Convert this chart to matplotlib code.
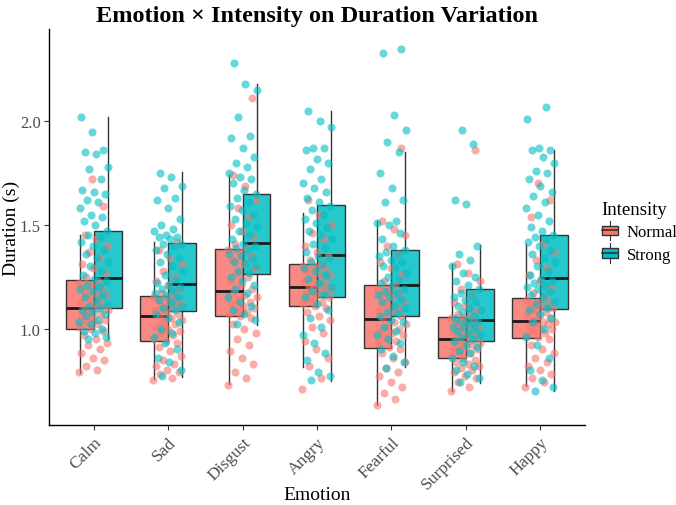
import matplotlib
matplotlib.use("Agg")
import matplotlib.pyplot as plt
import numpy as np
from matplotlib.patches import Rectangle
from matplotlib.lines import Line2D
from matplotlib.legend_handler import HandlerBase

plt.rcParams['font.family'] = ['Liberation Serif', 'DejaVu Serif']

emotions = ["Calm", "Sad", "Disgust", "Angry", "Fearful", "Surprised", "Happy"]
levels = ["Normal", "Strong"]
colors = {"Normal": "#F8766D", "Strong": "#00BFC4"}

# box stats: lower whisker, q1, median, q3, upper whisker
normal_lo  = [0.786, 0.757, 0.733, 0.814, 0.630, 0.700, 0.725]
normal_q1  = [1.000, 0.938, 1.060, 1.108, 0.905, 0.857, 0.956]
normal_med = [1.100, 1.062, 1.180, 1.203, 1.048, 0.948, 1.035]
normal_q3  = [1.235, 1.157, 1.386, 1.310, 1.210, 1.056, 1.146]
normal_hi  = [1.450, 1.420, 1.740, 1.556, 1.520, 1.313, 1.410]

strong_lo  = [0.950, 0.768, 1.016, 0.749, 0.813, 0.738, 0.700]
strong_q1  = [1.100, 1.084, 1.265, 1.154, 1.059, 0.941, 1.095]
strong_med = [1.243, 1.214, 1.413, 1.357, 1.211, 1.043, 1.246]
strong_q3  = [1.470, 1.413, 1.648, 1.594, 1.378, 1.189, 1.451]
strong_hi  = [2.020, 1.754, 2.180, 2.050, 1.850, 1.403, 1.862]

# jittered points (durations, s), estimated per group
calm_normal = [0.79, 0.80, 0.82, 0.85, 0.86, 0.88, 0.90, 0.92, 0.93, 0.95, 0.97, 0.99,
               1.00, 1.01, 1.02, 1.03, 1.04, 1.05, 1.06, 1.07, 1.08, 1.09, 1.10, 1.10,
               1.11, 1.12, 1.13, 1.14, 1.15, 1.16, 1.17, 1.18, 1.19, 1.21, 1.22, 1.23,
               1.25, 1.27, 1.29, 1.31, 1.34, 1.37, 1.40, 1.43, 1.45, 1.59, 1.72]
calm_strong = [0.95, 0.96, 0.98, 0.99, 1.00, 1.02, 1.03, 1.04, 1.06, 1.07, 1.08, 1.09,
               1.10, 1.11, 1.12, 1.14, 1.15, 1.16, 1.18, 1.19, 1.20, 1.21, 1.23, 1.24,
               1.26, 1.28, 1.30, 1.32, 1.34, 1.36, 1.38, 1.40, 1.42, 1.44, 1.45, 1.47,
               1.50, 1.52, 1.54, 1.55, 1.58, 1.61, 1.62, 1.65, 1.66, 1.67, 1.72, 1.77,
               1.78, 1.84, 1.85, 1.86, 1.95, 2.02]
sad_normal = [0.75, 0.76, 0.78, 0.79, 0.80, 0.82, 0.83, 0.85, 0.87, 0.89, 0.91, 0.93,
              0.94, 0.95, 0.97, 0.98, 0.99, 1.00, 1.01, 1.02, 1.03, 1.04, 1.05, 1.06,
              1.07, 1.08, 1.09, 1.10, 1.11, 1.12, 1.13, 1.14, 1.14, 1.15, 1.15, 1.16,
              1.17, 1.19, 1.21, 1.23, 1.25, 1.28, 1.31, 1.34, 1.38, 1.42]
sad_strong = [0.77, 0.80, 0.84, 0.86, 0.90, 0.93, 0.96, 0.98, 1.00, 1.03, 1.05, 1.07,
              1.09, 1.10, 1.11, 1.13, 1.14, 1.15, 1.16, 1.17, 1.18, 1.19, 1.20, 1.21,
              1.22, 1.24, 1.26, 1.28, 1.30, 1.32, 1.34, 1.36, 1.38, 1.40, 1.41, 1.41,
              1.43, 1.44, 1.44, 1.45, 1.47, 1.48, 1.50, 1.53, 1.58, 1.62, 1.63, 1.68,
              1.69, 1.73, 1.75]
disgust_normal = [0.73, 0.76, 0.79, 0.83, 0.86, 0.89, 0.92, 0.95, 0.98, 1.00, 1.02, 1.05,
                  1.06, 1.07, 1.08, 1.09, 1.10, 1.11, 1.12, 1.13, 1.14, 1.15, 1.16, 1.18,
                  1.19, 1.21, 1.23, 1.25, 1.27, 1.29, 1.31, 1.33, 1.35, 1.37, 1.38, 1.39,
                  1.41, 1.44, 1.47, 1.50, 1.54, 1.58, 1.62, 1.69, 1.74, 2.11]
disgust_strong = [1.02, 1.04, 1.07, 1.09, 1.11, 1.13, 1.15, 1.17, 1.19, 1.21, 1.23, 1.25,
                  1.27, 1.28, 1.30, 1.31, 1.32, 1.34, 1.35, 1.36, 1.38, 1.39, 1.40, 1.41,
                  1.43, 1.45, 1.47, 1.49, 1.51, 1.53, 1.55, 1.57, 1.59, 1.61, 1.63, 1.65,
                  1.67, 1.70, 1.72, 1.73, 1.75, 1.78, 1.80, 1.83, 1.87, 1.92, 1.93, 2.02,
                  2.15, 2.18, 2.28]
angry_normal = [0.71, 0.76, 0.82, 0.86, 0.90, 0.94, 0.98, 1.01, 1.04, 1.06, 1.08, 1.10,
                1.11, 1.12, 1.13, 1.14, 1.15, 1.16, 1.17, 1.18, 1.19, 1.19, 1.20, 1.20,
                1.21, 1.22, 1.23, 1.24, 1.25, 1.26, 1.27, 1.28, 1.29, 1.30, 1.30, 1.31,
                1.33, 1.35, 1.37, 1.40, 1.43, 1.46, 1.50, 1.55, 1.62]
angry_strong = [0.75, 0.77, 0.79, 0.85, 0.88, 0.93, 0.97, 1.01, 1.05, 1.09, 1.12, 1.15,
                1.16, 1.18, 1.20, 1.22, 1.24, 1.26, 1.28, 1.29, 1.31, 1.32, 1.34, 1.35,
                1.37, 1.39, 1.41, 1.43, 1.45, 1.47, 1.49, 1.51, 1.53, 1.55, 1.57, 1.59,
                1.61, 1.63, 1.66, 1.68, 1.70, 1.72, 1.77, 1.80, 1.82, 1.86, 1.87, 1.87,
                1.97, 2.00, 2.05]
fearful_normal = [0.63, 0.66, 0.69, 0.72, 0.74, 0.77, 0.79, 0.81, 0.84, 0.86, 0.88, 0.90,
                  0.91, 0.93, 0.94, 0.96, 0.97, 0.98, 0.99, 1.00, 1.01, 1.02, 1.03, 1.05,
                  1.06, 1.08, 1.09, 1.10, 1.12, 1.13, 1.15, 1.16, 1.17, 1.18, 1.19, 1.21,
                  1.23, 1.26, 1.29, 1.32, 1.36, 1.40, 1.45, 1.48, 1.52, 1.87]
fearful_strong = [0.81, 0.84, 0.87, 0.90, 0.93, 0.95, 0.97, 0.99, 1.01, 1.03, 1.04, 1.06,
                  1.07, 1.08, 1.10, 1.11, 1.13, 1.14, 1.15, 1.16, 1.17, 1.18, 1.19, 1.21,
                  1.22, 1.24, 1.25, 1.27, 1.29, 1.30, 1.32, 1.33, 1.35, 1.36, 1.37, 1.38,
                  1.40, 1.43, 1.46, 1.50, 1.51, 1.52, 1.61, 1.62, 1.68, 1.75, 1.85, 1.90,
                  1.96, 2.03, 2.33, 2.35]
surprised_normal = [0.70, 0.72, 0.74, 0.76, 0.77, 0.79, 0.80, 0.81, 0.82, 0.83, 0.84, 0.85,
                    0.86, 0.87, 0.88, 0.89, 0.90, 0.91, 0.91, 0.92, 0.93, 0.93, 0.94, 0.95,
                    0.96, 0.97, 0.98, 0.99, 1.00, 1.01, 1.02, 1.03, 1.04, 1.05, 1.05, 1.06,
                    1.07, 1.09, 1.11, 1.13, 1.16, 1.19, 1.23, 1.27, 1.31, 1.86]
surprised_strong = [0.74, 0.76, 0.78, 0.80, 0.82, 0.84, 0.86, 0.88, 0.89, 0.91, 0.92, 0.94,
                    0.95, 0.96, 0.97, 0.98, 0.99, 1.00, 1.01, 1.01, 1.02, 1.03, 1.03, 1.04,
                    1.05, 1.06, 1.08, 1.09, 1.10, 1.11, 1.13, 1.14, 1.15, 1.16, 1.17, 1.19,
                    1.21, 1.23, 1.25, 1.27, 1.30, 1.33, 1.36, 1.40, 1.60, 1.62, 1.89, 1.96]
happy_normal = [0.72, 0.74, 0.76, 0.78, 0.80, 0.82, 0.84, 0.86, 0.88, 0.90, 0.92, 0.95,
                0.96, 0.97, 0.98, 0.99, 1.00, 1.00, 1.01, 1.02, 1.02, 1.03, 1.03, 1.04,
                1.05, 1.06, 1.07, 1.08, 1.09, 1.10, 1.11, 1.12, 1.13, 1.13, 1.14, 1.15,
                1.17, 1.20, 1.23, 1.26, 1.29, 1.33, 1.37, 1.41, 1.54, 1.62, 1.70]
happy_strong = [0.70, 0.72, 0.75, 0.80, 0.86, 0.92, 0.96, 1.00, 1.03, 1.05, 1.07, 1.09,
                1.10, 1.12, 1.13, 1.15, 1.16, 1.18, 1.19, 1.20, 1.21, 1.22, 1.23, 1.24,
                1.26, 1.28, 1.30, 1.32, 1.34, 1.36, 1.38, 1.40, 1.42, 1.43, 1.44, 1.45,
                1.47, 1.49, 1.52, 1.55, 1.58, 1.61, 1.64, 1.66, 1.69, 1.72, 1.75, 1.76,
                1.80, 1.83, 1.86, 1.86, 1.87, 2.01, 2.07]

points_normal = [calm_normal, sad_normal, disgust_normal, angry_normal,
                 fearful_normal, surprised_normal, happy_normal]
points_strong = [calm_strong, sad_strong, disgust_strong, angry_strong,
                 fearful_strong, surprised_strong, happy_strong]

box_stats = {
    "Normal": (normal_lo, normal_q1, normal_med, normal_q3, normal_hi),
    "Strong": (strong_lo, strong_q1, strong_med, strong_q3, strong_hi),
}
points = {"Normal": points_normal, "Strong": points_strong}

fig = plt.figure(figsize=(6.76, 5.06), dpi=100)
ax = fig.add_axes([49/676, 80/506, 536/676, 396/506])

x = np.arange(1, len(emotions) + 1)
dodge = 0.1875
for k, lev in enumerate(levels):
    lo, q1, med, q3, hi = box_stats[lev]
    stats = [dict(whislo=lo[i], q1=q1[i], med=med[i], q3=q3[i], whishi=hi[i], fliers=[])
             for i in range(len(emotions))]
    pos = x + (-dodge if k == 0 else dodge)
    bp = ax.bxp(stats, positions=pos, widths=0.375, patch_artist=True,
                showcaps=False, showfliers=False,
                boxprops=dict(facecolor=colors[lev], edgecolor='#333333', linewidth=1.0),
                whiskerprops=dict(color='#333333', linewidth=1.0),
                medianprops=dict(color='#1a1a1a', linewidth=2.0),
                zorder=2)
    for b in bp['boxes']:
        b.set_facecolor(matplotlib.colors.to_rgba(colors[lev], 0.85))

# horizontal jitter around the category centre (deterministic spread)
for lev in levels:
    for i, vals in enumerate(points[lev]):
        n = len(vals)
        off = ((np.arange(n) * 0.6180339 + (0.31 if lev == "Strong" else 0.0)) % 1.0 - 0.5) * 0.4
        ax.scatter(x[i] + off, vals, s=34, color=colors[lev], alpha=0.6,
                   linewidths=0, zorder=3)

ax.set_xlim(0.4, 7.6)
ax.set_ylim(0.535, 2.445)
ax.set_yticks([1.0, 1.5, 2.0])
ax.set_yticklabels(["1.0", "1.5", "2.0"])
ax.set_xticks(x)
ax.set_xticklabels(emotions, rotation=45, ha='right', rotation_mode='anchor')
ax.tick_params(axis='both', colors='#333333', labelcolor='#4D4D4D', labelsize=12.5,
               length=3.5, width=0.8, pad=3)
ax.tick_params(axis='y', labelsize=12, pad=2.5)
for s in ['top', 'right']:
    ax.spines[s].set_visible(False)
for s in ['left', 'bottom']:
    ax.spines[s].set_linewidth(1.0)
    ax.spines[s].set_color('black')

ax.set_xlabel("Emotion", fontsize=14, va='center')
ax.set_ylabel("Duration (s)", fontsize=14, va='center')
ax.xaxis.set_label_coords(0.5, (426 - 496) / 396)
ax.yaxis.set_label_coords((11 - 49) / 536, 0.5)
ax.set_title("Emotion × Intensity on Duration Variation", fontsize=17.5,
             fontweight='bold', pad=6)


class BoxHandler(HandlerBase):
    def create_artists(self, legend, orig_handle, xdescent, ydescent, width, height,
                       fontsize, trans):
        x0, y0 = -xdescent, -ydescent
        fc = orig_handle.get_facecolor()
        cx = x0 + width / 2
        arts = [
            Line2D([cx, cx], [y0 - 0.2 * height, y0 + 0.15 * height], color='#333333', lw=0.8),
            Line2D([cx, cx], [y0 + 0.85 * height, y0 + 1.2 * height], color='#333333', lw=0.8),
            Rectangle((x0, y0 + 0.15 * height), width, 0.7 * height,
                      facecolor=fc, edgecolor='#333333', lw=1.0),
            Line2D([x0, x0 + width], [y0 + 0.5 * height] * 2, color='#333333', lw=1.2),
        ]
        for a in arts:
            a.set_transform(trans)
        return arts


handles = [Rectangle((0, 0), 1, 1, facecolor=colors[l]) for l in levels]
leg = fig.legend(handles, levels, title="Intensity", loc='upper left',
                 bbox_to_anchor=(590/676, 1 - 190/506), frameon=False, fontsize=12,
                 title_fontsize=13.5, handler_map={Rectangle: BoxHandler()},
                 handlelength=0.95, handleheight=0.9, handletextpad=0.55,
                 labelspacing=0.35, borderpad=0.2, alignment='left')

fig.savefig("out.png", dpi=100)
